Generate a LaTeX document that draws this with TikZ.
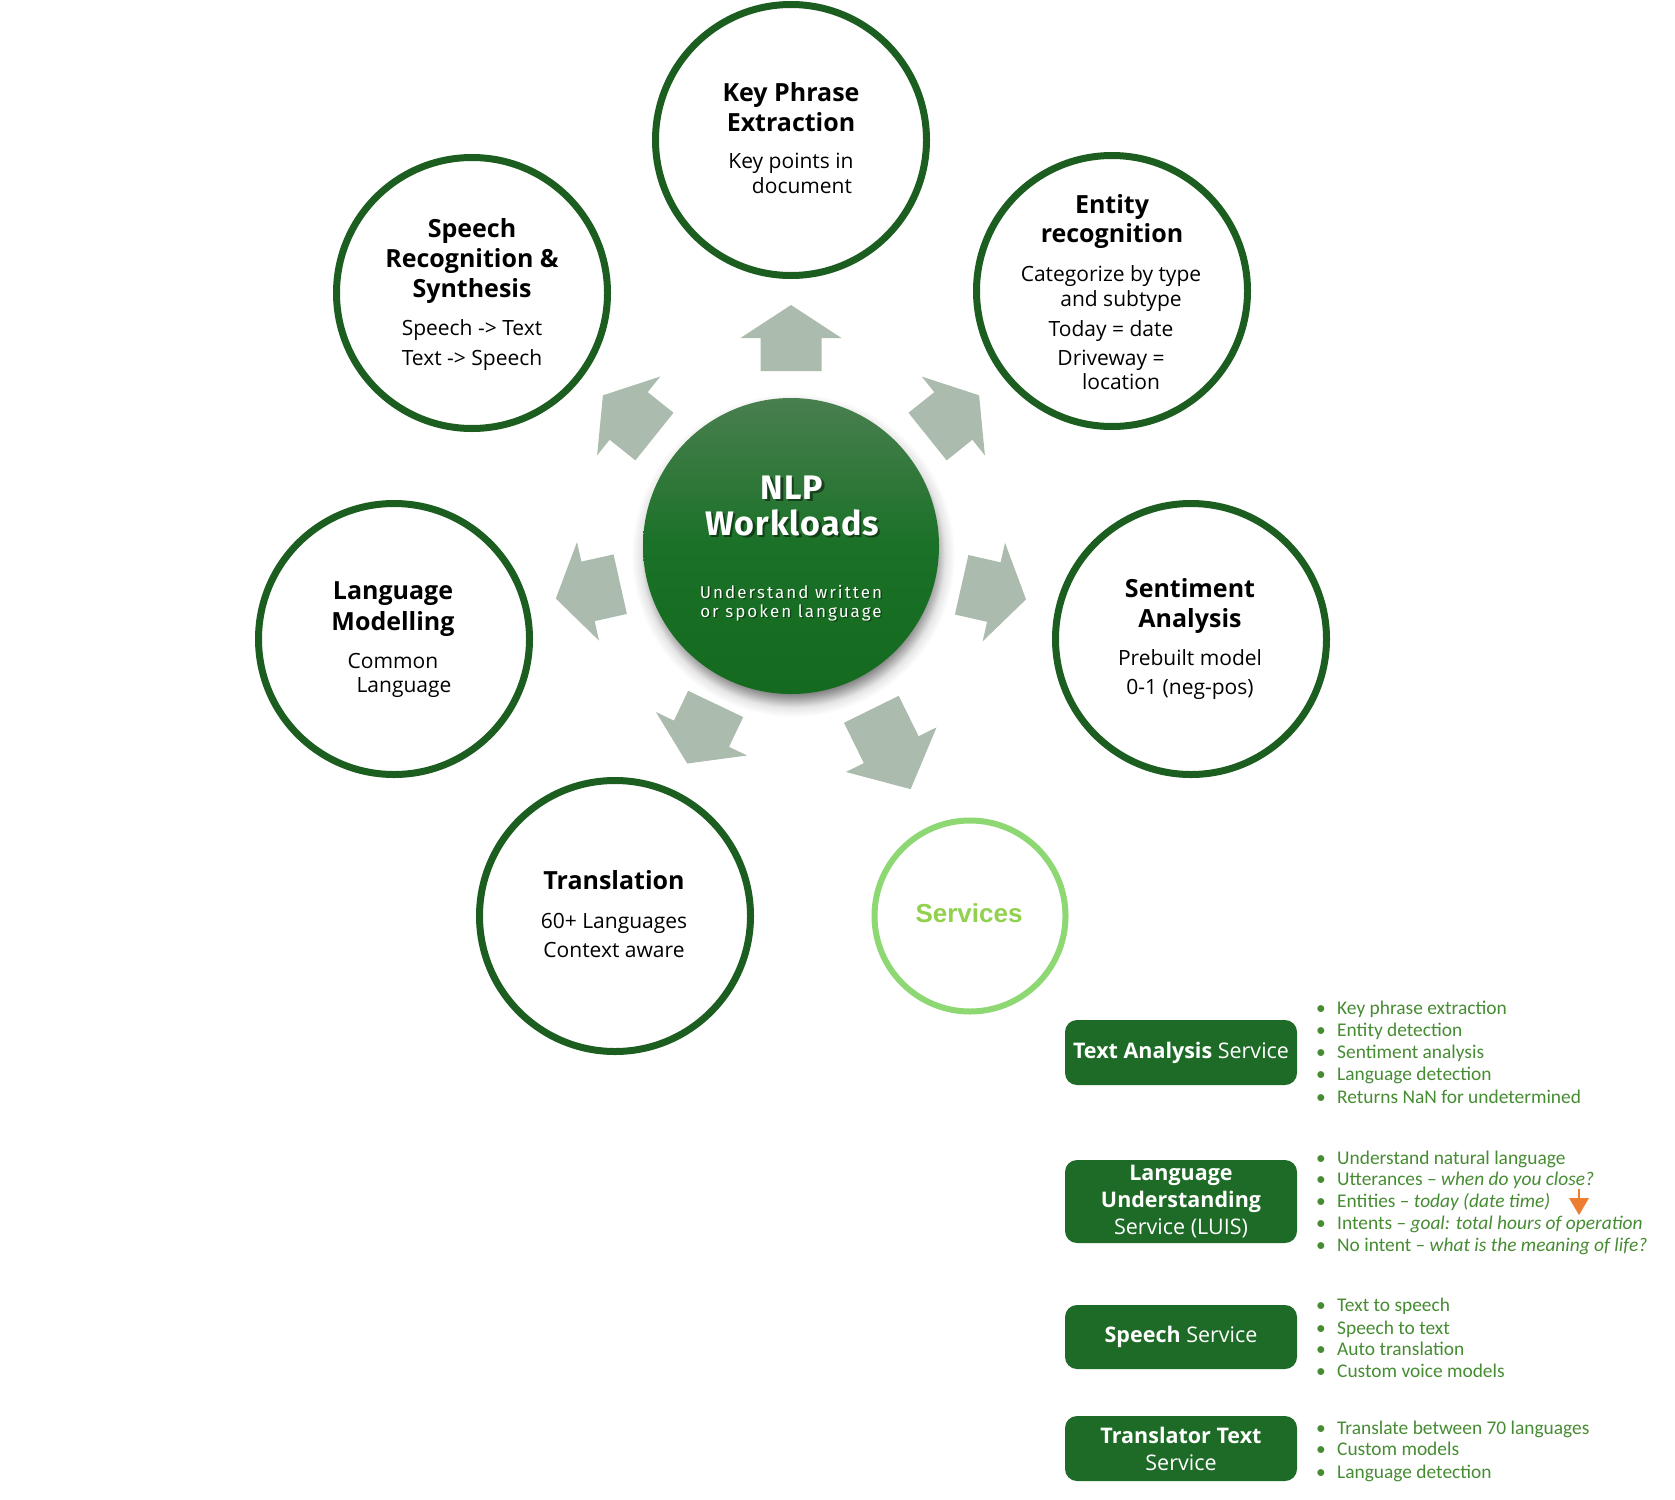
\documentclass[tikz,border=0pt]{standalone}
\usepackage{fontspec}
\setmainfont{Open Sans}
\newfontfamily\listfont{Carlito}
\newfontfamily\nlpfont[LetterSpace=3]{Fira Sans}
\newfontfamily\nlpsubfont[LetterSpace=12]{Fira Sans}
\newfontfamily\arialfont{Liberation Sans}
\usetikzlibrary{calc,arrows.meta}
\definecolor{ring}{HTML}{1B5E20}
\definecolor{boxg}{HTML}{1D6B26}
\definecolor{arrowc}{HTML}{ABBBAD}
\definecolor{svcring}{HTML}{8ED873}
\definecolor{svctext}{HTML}{92D050}
\definecolor{listg}{HTML}{468C32}
\definecolor{nlptop}{HTML}{4A7F50}
\definecolor{nlpmid}{HTML}{1A7127}
\definecolor{nlpbot}{HTML}{146A1E}
\definecolor{orangea}{HTML}{ED7D31}
\pgfdeclareradialshading{nlpshadow}{\pgfpoint{0bp}{0bp}}{color(0bp)=(black!50); color(21.3bp)=(black!50); color(22.3bp)=(black!32); color(23.5bp)=(black!10); color(25bp)=(white); color(50bp)=(white)}
\tikzset{
 ws/.style={circle, draw=ring, line width=7pt, minimum size=271pt, inner sep=0pt, fill=white},
 ttl/.style={anchor=base, inner sep=0pt, font=\fontsize{25pt}{30pt}\selectfont\bfseries},
 subt/.style={anchor=base, inner sep=0pt, font=\fontsize{21pt}{25pt}\selectfont},
 nlpbig/.style={anchor=base, inner sep=0pt, font=\fontsize{34pt}{36pt}\selectfont\nlpfont\bfseries},
 nlpsmall/.style={anchor=base, inner sep=0pt, font=\fontsize{17pt}{19pt}\selectfont\nlpsubfont},
 svcbox/.style={rectangle, rounded corners=12pt, fill=boxg, text=white, minimum width=232pt, inner sep=0pt, align=center, font=\fontsize{21.5pt}{27pt}\selectfont},
 litem/.style={anchor=base west, inner sep=0pt, text=listg, font=\fontsize{19.4pt}{22pt}\selectfont\listfont},
}
\newcommand\blockarrow[4]{%
 \fill[arrowc] ($(ctr)+(#1:#2)+({#1+90}:30.5)$) -- ($(ctr)+(#1:#3)+({#1+90}:30.5)$) -- ($(ctr)+(#1:#3)+({#1+90}:50.5)$) -- ($(ctr)+(#1:#4)$) -- ($(ctr)+(#1:#3)+({#1-90}:50.5)$) -- ($(ctr)+(#1:#3)+({#1-90}:30.5)$) -- ($(ctr)+(#1:#2)+({#1-90}:30.5)$) -- cycle;}
\newcommand\bul{\makebox[21pt][l]{•}}
\begin{document}
\begin{tikzpicture}[x=1pt,y=-1pt]
\useasboundingbox (0,0) rectangle (1675,1499);
\fill[white] (0,0) rectangle (1675,1499);
\coordinate (ctr) at (791,546);

% soft shadow of the centre circle
\shade[shading=nlpshadow] ($(ctr)+(2,9)$) circle[radius=162];

% outer circles
\node[ws] (kp) at (791,140) {};
\node[ws] (sp) at (472,293) {};
\node[ws] (er) at (1112,291) {};
\node[ws] (lm) at (394,639) {};
\node[ws] (sa) at (1191,639) {};
\node[ws] (tr) at (615,916) {};
\node[circle, draw=svcring, line width=6pt, minimum size=191pt, inner sep=0pt] (svc) at (970,916) {};
\node[anchor=base, inner sep=0pt, text=svctext, font=\fontsize{26pt}{28pt}\selectfont\arialfont\bfseries] (svct) at (969,922) {Services};

% block arrows
\blockarrow{-90}{175}{208}{241}
\blockarrow{-141.3}{175}{208}{241}
\blockarrow{-38.7}{175}{208}{241}
\blockarrow{167.4}{175}{208}{241}
\blockarrow{12.8}{175}{208}{241}
\blockarrow{115.5}{175}{208}{241}
\blockarrow{63.8}{182}{227}{271}

% centre circle
\node[circle, minimum size=296pt, inner sep=0pt, top color=nlptop, bottom color=nlpbot, middle color=nlpmid] (nlp) at (ctr) {};
\node[nlpbig, text=black, opacity=0.45] (nlp1s) at (794.5,501) {NLP};
\node[nlpbig, text=black, opacity=0.45] (nlp2s) at (794.5,537) {Workloads};
\node[nlpbig, text=white] (nlp1) at (792,499) {NLP};
\node[nlpbig, text=white] (nlp2) at (792,535) {Workloads};
\node[nlpsmall, text=black, opacity=0.4] (nlp3s) at (792.5,599.5) {Understand written};
\node[nlpsmall, text=black, opacity=0.4] (nlp4s) at (792.5,618.5) {or spoken language};
\node[nlpsmall, text=white] (nlp3) at (791,598) {Understand written};
\node[nlpsmall, text=white] (nlp4) at (791,617) {or spoken language};

% Key phrase
\node[ttl] (kp1) at (791,101) {Key Phrase};
\node[ttl] (kp2) at (791,131) {Extraction};
\node[subt] (kp3) at (791,168) {Key points in};
\node[subt] (kp4) at (802,193) {document};
% Speech
\node[ttl] (sp1) at (472,237) {Speech};
\node[ttl] (sp2) at (472,267) {Recognition \&};
\node[ttl] (sp3) at (472,297) {Synthesis};
\node[subt] (sp4) at (472,335) {Speech -> Text};
\node[subt] (sp5) at (472,365) {Text -> Speech};
% Language modelling
\node[ttl] (lm1) at (393,599) {Language};
\node[ttl] (lm2) at (393,630) {Modelling};
\node[subt] (lm3) at (393,668) {Common};
\node[subt] (lm4) at (404,692) {Language};
% Translation
\node[ttl] (tr1) at (614,889) {Translation};
\node[subt] (tr2) at (614,928) {60+ Languages};
\node[subt] (tr3) at (614,957) {Context aware};
% Entity
\node[ttl] (er1) at (1112,213) {Entity};
\node[ttl] (er2) at (1112,242) {recognition};
\node[subt] (er3) at (1111,281) {Categorize by type};
\node[subt] (er4) at (1121,306) {and subtype};
\node[subt] (er5) at (1111,336) {Today = date};
\node[subt] (er6) at (1111,365) {Driveway =};
\node[subt] (er7) at (1121,389) {location};
% Sentiment
\node[ttl] (sa1) at (1190,597) {Sentiment};
\node[ttl] (sa2) at (1190,627) {Analysis};
\node[subt] (sa3) at (1190,665) {Prebuilt model};
\node[subt] (sa4) at (1190,694) {0-1 (neg-pos)};

% service boxes
\node[svcbox, minimum height=65pt] (bta) at (1181,1052.5) {\textbf{Text Analysis} Service};
\node[svcbox, minimum height=83pt] (blu) at (1181,1201.5) {\textbf{Language}\\\textbf{Understanding}\\Service (LUIS)};
\node[svcbox, minimum height=64pt] (bsp) at (1181,1337) {\textbf{Speech} Service};
\node[svcbox, minimum height=65pt] (btt) at (1181,1448.5) {\textbf{Translator Text}\\Service};

% lists
\node[litem] (ta1) at (1316,1014) {\bul Key phrase extraction};
\node[litem] (ta2) at (1316,1036) {\bul Entity detection};
\node[litem] (ta3) at (1316,1058.5) {\bul Sentiment analysis};
\node[litem] (ta4) at (1316,1080.5) {\bul Language detection};
\node[litem] (ta5) at (1316,1103) {\bul Returns NaN for undetermined};

\node[litem] (lu1) at (1316,1164) {\bul Understand natural language};
\node[litem] (lu2) at (1316,1185) {\bul Utterances – \textit{when do you close?}};
\node[litem] (lu3) at (1316,1207.5) {\bul Entities – \textit{today (date time)}};
\node[litem] (lu4) at (1316,1229) {\bul Intents – \textit{goal: total hours of operation}};
\node[litem] (lu5) at (1316,1251) {\bul No intent – \textit{what is the meaning of life?}};

\node[litem] (ss1) at (1316,1311) {\bul Text to speech};
\node[litem] (ss2) at (1316,1334) {\bul Speech to text};
\node[litem] (ss3) at (1316,1355) {\bul Auto translation};
\node[litem] (ss4) at (1316,1377.5) {\bul Custom voice models};

\node[litem] (tt1) at (1316,1434) {\bul Translate between 70 languages};
\node[litem] (tt2) at (1316,1455.6) {\bul Custom models};
\node[litem] (tt3) at (1316,1478) {\bul Language detection};

% orange arrow
\coordinate (oa1) at (1579,1189);
\coordinate (oa2) at (1579,1200);
\coordinate (oa3) at (1579,1215);
\draw[orangea, line width=2.5pt] (oa1) -- (oa2);
\fill[orangea] ($(oa2)+(-10,-2)$) -- ($(oa2)+(10,-2)$) -- (oa3) -- cycle;
\end{tikzpicture}
\end{document}
